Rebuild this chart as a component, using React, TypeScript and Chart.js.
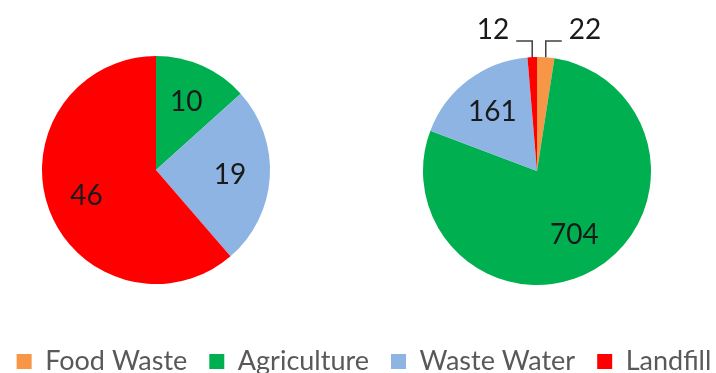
import React, { useEffect, useRef } from "react";
import { Chart, registerables } from "chart.js";

Chart.register(...registerables);

const categories = ["Food Waste", "Agriculture", "Waste Water", "Landfill"];
const leftValues = [0, 10, 19, 46];
const rightValues = [22, 704, 161, 12];
const colors = ["#F79646", "#00B050", "#8DB4E2", "#FF0000"];

const FONT = "Lato, 'Open Sans', sans-serif";

const sliceLabels = {
  id: "sliceLabels",
  afterDatasetsDraw(chart: any) {
    const ctx = chart.ctx;
    const meta = chart.getDatasetMeta(0);
    const data = chart.data.datasets[0].data as number[];
    const total = data.reduce((a, b) => a + b, 0);
    ctx.save();
    ctx.font = `28px ${FONT}`;
    ctx.fillStyle = "#1a1a1a";
    ctx.textBaseline = "middle";
    meta.data.forEach((arc: any, i: number) => {
      const v = data[i];
      if (!v) return;
      const { x, y, startAngle, endAngle, outerRadius } = arc.getProps(
        ["x", "y", "startAngle", "endAngle", "outerRadius"],
        true
      );
      const mid = (startAngle + endAngle) / 2;
      if (v / total < 0.04) {
        const px = x + outerRadius * Math.cos(mid);
        const py = y + outerRadius * Math.sin(mid);
        const elbowY = y - outerRadius - 16;
        const dir = Math.cos(mid) < 0 ? -1 : 1;
        const ex = px + dir * 16;
        ctx.strokeStyle = "#404040";
        ctx.lineWidth = 1.5;
        ctx.beginPath();
        ctx.moveTo(px, py);
        ctx.lineTo(px, elbowY);
        ctx.lineTo(ex, elbowY);
        ctx.stroke();
        ctx.textAlign = dir < 0 ? "right" : "left";
        ctx.fillText(String(v), ex + dir * 7, elbowY - 11);
      } else {
        ctx.textAlign = "center";
        const r = outerRadius * 0.65;
        ctx.fillText(String(v), x + r * Math.cos(mid), y + r * Math.sin(mid));
      }
    });
    ctx.restore();
  },
};

function makeDataset(values: number[]) {
  return {
    data: values,
    backgroundColor: colors,
    borderWidth: 0,
    hoverOffset: 0,
    offset: 0,
  };
}

function pieChart(canvas: HTMLCanvasElement, values: number[], padding: any) {
  return new Chart(canvas, {
    type: "pie",
    data: { labels: categories, datasets: [makeDataset(values) as any] },
    options: {
      responsive: false,
      animation: false,
      events: [],
      layout: { padding },
      plugins: {
        tooltip: { enabled: false },
        legend: { display: false },
      },
    },
    plugins: [sliceLabels],
  });
}

export default function App() {
  const leftRef = useRef<HTMLCanvasElement>(null);
  const rightRef = useRef<HTMLCanvasElement>(null);
  const legendRef = useRef<HTMLCanvasElement>(null);

  useEffect(() => {
    const left = pieChart(leftRef.current!, leftValues, { left: 42, right: 88, top: 56, bottom: 16 });
    const right = pieChart(rightRef.current!, rightValues, { left: 65, right: 65, top: 57, bottom: 15 });
    const legend = new Chart(legendRef.current!, {
      type: "pie",
      data: { labels: categories, datasets: [makeDataset(rightValues) as any] },
      options: {
        responsive: false,
        animation: false,
        events: [],
        radius: 0,
        plugins: {
          tooltip: { enabled: false },
          legend: {
            display: true,
            position: "bottom",
            labels: {
              boxWidth: 15,
              boxHeight: 15,
              padding: 22,
              color: "#595959",
              font: { size: 27, family: FONT },
            },
          },
        },
      } as any,
    });
    return () => {
      left.destroy();
      right.destroy();
      legend.destroy();
    };
  }, []);

  return (
    <div
      style={{
        position: "fixed",
        left: 0,
        top: 0,
        width: 716,
        height: 373,
        overflow: "hidden",
        background: "#fff",
      }}
    >
      <canvas
        ref={leftRef}
        width={358}
        height={300}
        style={{ position: "absolute", left: 0, top: 0, display: "block" }}
      />
      <canvas
        ref={rightRef}
        width={358}
        height={300}
        style={{ position: "absolute", left: 358, top: 0, display: "block" }}
      />
      <canvas
        ref={legendRef}
        width={750}
        height={140}
        style={{ position: "absolute", left: -11, top: 245, display: "block", pointerEvents: "none" }}
      />
    </div>
  );
}
